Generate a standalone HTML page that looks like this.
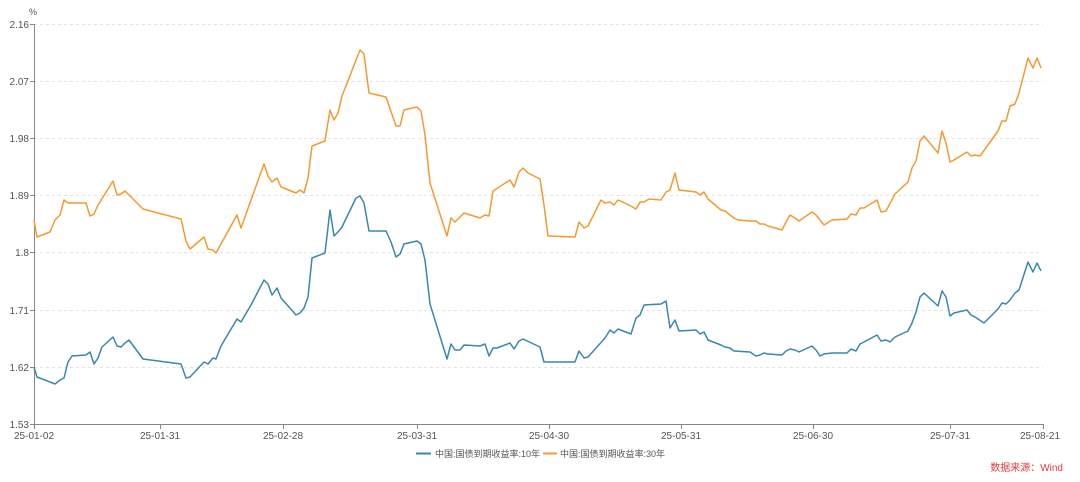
<!DOCTYPE html>
<html><head><meta charset="utf-8"><style>
html,body{margin:0;padding:0;background:#fff;}
svg{display:block;font-family:"Liberation Sans","Noto Sans CJK SC",sans-serif;}
</style></head><body>
<svg width="1080" height="482" viewBox="0 0 1080 482">
<g stroke="#e3e3e3" stroke-dasharray="3,3" stroke-width="1">
<line x1="34" x2="1043" y1="24.5" y2="24.5"/><line x1="34" x2="1043" y1="81.5" y2="81.5"/>
<line x1="34" x2="1043" y1="138.5" y2="138.5"/><line x1="34" x2="1043" y1="195.5" y2="195.5"/>
<line x1="34" x2="1043" y1="252.5" y2="252.5"/><line x1="34" x2="1043" y1="310.5" y2="310.5"/>
<line x1="34" x2="1043" y1="367.5" y2="367.5"/>
</g>
<g stroke="#888" stroke-width="1">
<line x1="34.5" y1="24" x2="34.5" y2="424"/><line x1="34" y1="424.5" x2="1043" y2="424.5"/>
<line x1="30" x2="34" y1="24.5" y2="24.5"/><line x1="30" x2="34" y1="81.5" y2="81.5"/><line x1="30" x2="34" y1="138.5" y2="138.5"/><line x1="30" x2="34" y1="195.5" y2="195.5"/><line x1="30" x2="34" y1="252.5" y2="252.5"/><line x1="30" x2="34" y1="310.5" y2="310.5"/><line x1="30" x2="34" y1="367.5" y2="367.5"/><line x1="30" x2="34" y1="424.5" y2="424.5"/>
<line x1="34.5" x2="34.5" y1="424" y2="429"/><line x1="160.5" x2="160.5" y1="424" y2="429"/><line x1="283.5" x2="283.5" y1="424" y2="429"/><line x1="417.5" x2="417.5" y1="424" y2="429"/><line x1="549.5" x2="549.5" y1="424" y2="429"/><line x1="681.5" x2="681.5" y1="424" y2="429"/><line x1="813.5" x2="813.5" y1="424" y2="429"/><line x1="950.5" x2="950.5" y1="424" y2="429"/><line x1="1043.5" x2="1043.5" y1="424" y2="429"/>
</g>
<g font-size="10" fill="#555" text-anchor="end">
<text x="29" y="28">2.16</text><text x="29" y="85">2.07</text><text x="29" y="142">1.98</text><text x="29" y="199">1.89</text><text x="29" y="256">1.8</text><text x="29" y="314">1.71</text><text x="29" y="371">1.62</text><text x="29" y="428">1.53</text>
</g>
<text x="29" y="15" font-size="9" fill="#555">%</text>
<g font-size="10" fill="#555" text-anchor="middle">
<text x="34" y="439">25-01-02</text><text x="160" y="439">25-01-31</text><text x="283" y="439">25-02-28</text><text x="417" y="439">25-03-31</text><text x="549" y="439">25-04-30</text><text x="681" y="439">25-05-31</text><text x="813" y="439">25-06-30</text><text x="950" y="439">25-07-31</text><text x="1040" y="439">25-08-21</text>
</g>
<polyline fill="none" stroke="#f39a32" stroke-width="1.5" stroke-linejoin="round" points="34,220 37,237 50,232 55,220 60,215 64,200 68,203 86,203 90,216 94,214 98,205 113,181 117,195 121,194 125,191 143,209 181,219 186,241 190,249 204,237 208,249 213,250 216,253 237,215 241,228 251,200 264,164 268,176 272,182 277,178 281,187 296,193 300,190 304,193 308,178 312,146 325,141 330,110 334,120 338,113 342,96 360,50 364,54 369,93 386,97 396,126 400,126 404,110 417,107 421,111 425,135 430,183 447,236 451,218 455,222 464,213 480,218 485,215 489,216 493,191 510,180 514,187 519,172 523,168 528,173 540,179 544,205 548,236 575,237 579,222 584,228 588,226 601,200 605,203 610,202 614,205 618,200 627,204 636,209 640,202 644,202 649,199 661,200 666,192 670,190 675,173 679,190 696,192 700,195 704,192 708,199 721,210 725,211 730,215 734,218 738,220 750,221 756,221 760,224 764,224 768,226 782,230 786,222 790,215 795,218 799,221 812,212 816,215 820,220 824,225 832,220 847,219 851,214 856,215 860,208 864,208 877,200 881,212 886,211 895,194 908,182 912,168 916,161 920,141 924,136 938,153 942,131 946,143 950,162 954,160 967,152 971,156 975,155 980,156 998,131 1002,121 1006,121 1010,106 1015,104 1019,93 1028,58 1033,68 1037,58 1041,68"/>
<polyline fill="none" stroke="#3a87ad" stroke-width="1.5" stroke-linejoin="round" points="34,367 37,377 50,382 55,384 60,380 64,378 68,362 72,356 86,355 90,352 94,364 98,358 102,347 113,337 117,346 121,347 125,343 129,340 143,359 181,364 186,378 190,377 204,362 208,364 213,358 216,359 221,346 237,319 241,322 251,305 264,280 268,284 272,295 277,288 281,298 296,315 300,313 304,308 308,297 312,258 325,253 330,210 334,236 338,232 342,227 356,198 360,196 364,203 369,231 386,231 391,242 396,257 400,254 404,244 417,241 421,244 425,260 430,304 447,359 451,344 455,350 460,350 464,345 480,346 485,344 489,356 493,348 497,348 510,343 514,349 519,341 523,339 540,347 544,362 575,362 579,351 584,358 588,357 605,338 610,330 614,333 618,329 631,334 636,318 640,315 644,305 661,304 666,301 670,328 675,320 679,331 696,330 700,334 704,332 708,340 721,345 725,347 730,348 734,351 750,352 756,356 760,355 764,353 768,354 782,355 786,351 790,349 795,350 799,352 812,346 816,350 820,356 824,354 832,353 847,353 851,349 856,351 860,344 864,342 877,335 881,341 886,340 890,342 895,337 908,331 912,323 916,312 920,297 924,293 938,306 942,291 946,297 950,316 954,313 967,310 971,315 975,317 984,323 998,309 1002,303 1006,304 1010,300 1015,293 1019,290 1028,262 1033,272 1037,263 1041,271"/>
<line x1="416" x2="431" y1="453.5" y2="453.5" stroke="#3a87ad" stroke-width="2"/>
<text x="435" y="457" font-size="9" fill="#555">中国:国债到期收益率:10年</text>
<line x1="543" x2="557" y1="453.5" y2="453.5" stroke="#f39a32" stroke-width="2"/>
<text x="560" y="457" font-size="9" fill="#555">中国:国债到期收益率:30年</text>
<text x="1063" y="471" font-size="10" fill="#e8383d" text-anchor="end">数据来源：Wind</text>
</svg>
</body></html>
